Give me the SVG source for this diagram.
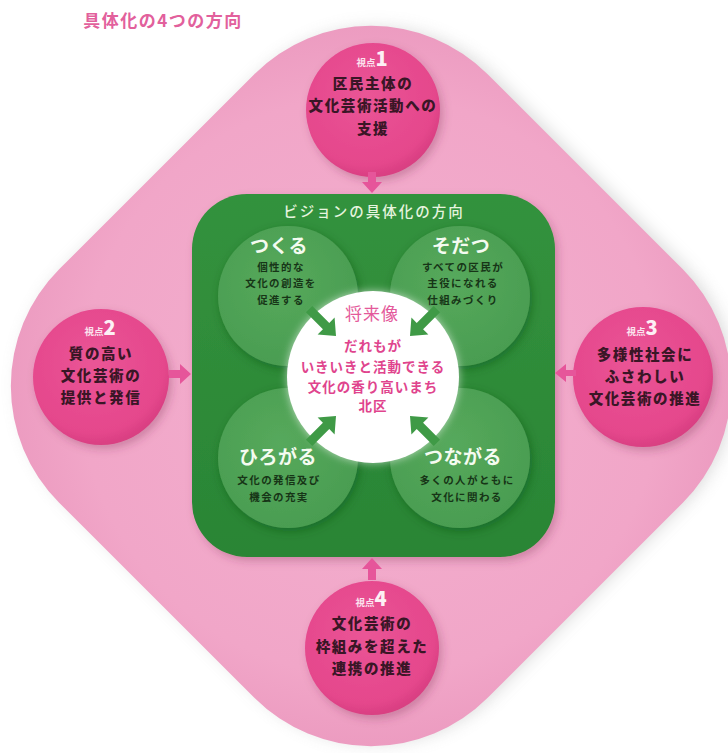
<svg xmlns="http://www.w3.org/2000/svg" width="728" height="753" viewBox="0 0 728 753">
  <defs>
    <style>
      text { font-family: "Noto Sans CJK JP", "Noto Sans", sans-serif; text-anchor: middle; }
      .title { font-size: 17px; font-weight: 700; fill: #e2609c; letter-spacing: 1.5px; }
      .ptxt { font-size: 14.5px; font-weight: 900; fill: #3a1626; letter-spacing: 1.6px; }
      .vlab { font-size: 9.5px; font-weight: 700; fill: #fbe3ee; }
      .vnum { font-size: 20px; font-weight: 900; fill: #fdf0f5; }
      .gtitle { font-size: 14.5px; font-weight: 500; fill: #e6f4df; letter-spacing: 2px; }
      .ghead { font-size: 19px; font-weight: 700; fill: #f4fbf0; letter-spacing: 0.5px; }
      .gsub { font-size: 10.5px; font-weight: 700; fill: #173517; letter-spacing: 1.4px; }
      .fut { font-size: 17px; font-weight: 400; fill: #e45a9b; letter-spacing: 1px; }
      .ftxt { font-size: 13.5px; font-weight: 700; fill: #e0448d; letter-spacing: 1px; }
      .pcircle { fill: url(#pinkGrad); filter: url(#shadow); }
      .gcircle { fill: url(#greenGrad); }
      .parrow { fill: #e6559a; }
      .garrow { fill: #3f9a46; }
    </style>
    <radialGradient id="pinkGrad" cx="0.45" cy="0.4" r="0.6">
      <stop offset="0" stop-color="#ea5596"/>
      <stop offset="0.85" stop-color="#e5478c"/>
      <stop offset="1" stop-color="#d93f82"/>
    </radialGradient>
    <radialGradient id="greenGrad" cx="0.45" cy="0.4" r="0.6">
      <stop offset="0" stop-color="#56a95c"/>
      <stop offset="1" stop-color="#4a9d51"/>
    </radialGradient>
    <radialGradient id="diaGrad" cx="0.5" cy="0.5" r="0.6">
      <stop offset="0" stop-color="#f3b0cf"/>
      <stop offset="0.8" stop-color="#f1a6c8"/>
      <stop offset="1" stop-color="#ec9bc0"/>
    </radialGradient>
    <linearGradient id="boxGrad" x1="0" y1="0" x2="0" y2="1">
      <stop offset="0" stop-color="#33923d"/>
      <stop offset="1" stop-color="#2a8535"/>
    </linearGradient>
    <filter id="shadow" x="-20%" y="-20%" width="150%" height="150%">
      <feDropShadow dx="3" dy="4" stdDeviation="4" flood-color="#7a3050" flood-opacity="0.3"/>
    </filter>
    <filter id="bigShadow" x="-10%" y="-10%" width="120%" height="120%">
      <feGaussianBlur stdDeviation="9"/>
    </filter>
    <filter id="gshadow" x="-20%" y="-20%" width="150%" height="150%">
      <feDropShadow dx="2" dy="3" stdDeviation="5" flood-color="#0f4a18" flood-opacity="0.45"/>
    </filter>
    <filter id="glow" x="-20%" y="-20%" width="140%" height="140%">
      <feDropShadow dx="0" dy="0" stdDeviation="4" flood-color="#ffffff" flood-opacity="0.6"/>
    </filter>
  </defs>

  <rect width="728" height="753" fill="#ffffff"/>

  <g id="title">
    <text class="title" x="163" y="27">具体化の4つの方向</text>
  </g>

  <g id="diamond">
    <rect x="72" y="86" width="600" height="600" rx="165" transform="rotate(45 375 391)" fill="#a0a0a0" opacity="0.45" filter="url(#bigShadow)"/>
    <rect x="68" y="83" width="606" height="606" rx="165" transform="rotate(45 371 386)" fill="url(#diaGrad)"/>
  </g>

  <g id="vision-box">
    <rect x="192" y="194" width="363" height="363" rx="55" fill="url(#boxGrad)" filter="url(#shadow)"/>
    <text class="gtitle" x="374" y="217">ビジョンの具体化の方向</text>
  </g>

  <g id="tsukuru">
    <circle class="gcircle" cx="288" cy="296" r="70" filter="url(#gshadow)"/>
    <text class="ghead" x="279" y="253">つくる</text>
    <text class="gsub" x="281" y="271">個性的な</text>
    <text class="gsub" x="281" y="287">文化の創造を</text>
    <text class="gsub" x="281" y="304">促進する</text>
  </g>

  <g id="sodatsu">
    <circle class="gcircle" cx="460" cy="296" r="70" filter="url(#gshadow)"/>
    <text class="ghead" x="461" y="253">そだつ</text>
    <text class="gsub" x="463" y="271">すべての区民が</text>
    <text class="gsub" x="463" y="287">主役になれる</text>
    <text class="gsub" x="463" y="304">仕組みづくり</text>
  </g>

  <g id="hirogaru">
    <circle class="gcircle" cx="288" cy="458" r="70" filter="url(#gshadow)"/>
    <text class="ghead" x="278" y="464">ひろがる</text>
    <text class="gsub" x="279" y="484">文化の発信及び</text>
    <text class="gsub" x="279" y="501">機会の充実</text>
  </g>

  <g id="tsunagaru">
    <circle class="gcircle" cx="460" cy="458" r="70" filter="url(#gshadow)"/>
    <text class="ghead" x="463" y="464">つながる</text>
    <text class="gsub" x="467" y="484">多くの人がともに</text>
    <text class="gsub" x="467" y="501">文化に関わる</text>
  </g>

  <g id="future">
    <circle cx="373" cy="377" r="86" fill="#ffffff" filter="url(#glow)"/>
    <text class="fut" x="372" y="320">将来像</text>
    <text class="ftxt" x="373" y="351">だれもが</text>
    <text class="ftxt" x="373" y="372">いきいきと活動できる</text>
    <text class="ftxt" x="373" y="392">文化の香り高いまち</text>
    <text class="ftxt" x="373" y="411">北区</text>
  </g>

  <g id="viewpoint1">
    <circle class="pcircle" cx="373" cy="110" r="67"/>
    <text x="372" y="66"><tspan class="vlab">視点</tspan><tspan class="vnum">1</tspan></text>
    <text class="ptxt" x="373" y="89">区民主体の</text>
    <text class="ptxt" x="373" y="111">文化芸術活動への</text>
    <text class="ptxt" x="373" y="134">支援</text>
  </g>

  <g id="viewpoint2">
    <circle class="pcircle" cx="101" cy="377" r="68"/>
    <text x="100" y="335"><tspan class="vlab">視点</tspan><tspan class="vnum">2</tspan></text>
    <text class="ptxt" x="101" y="359">質の高い</text>
    <text class="ptxt" x="101" y="381">文化芸術の</text>
    <text class="ptxt" x="101" y="403">提供と発信</text>
  </g>

  <g id="viewpoint3">
    <circle class="pcircle" cx="643" cy="377" r="70"/>
    <text x="642" y="335"><tspan class="vlab">視点</tspan><tspan class="vnum">3</tspan></text>
    <text class="ptxt" x="645" y="360">多様性社会に</text>
    <text class="ptxt" x="645" y="382">ふさわしい</text>
    <text class="ptxt" x="645" y="404">文化芸術の推進</text>
  </g>

  <g id="viewpoint4">
    <circle class="pcircle" cx="372" cy="648" r="67"/>
    <text x="371" y="606"><tspan class="vlab">視点</tspan><tspan class="vnum">4</tspan></text>
    <text class="ptxt" x="372" y="629">文化芸術の</text>
    <text class="ptxt" x="372" y="652">枠組みを超えた</text>
    <text class="ptxt" x="372" y="674">連携の推進</text>
  </g>

  <g id="connectors">
    <path class="parrow" d="M368 172 H376 V182 H382 L372 193 L362 182 H368 Z"/>
    <path class="parrow" d="M169 370 H180 V364 L191 374 L180 384 V378 H169 Z"/>
    <path class="parrow" d="M576 370 H566 V364 L555 373 L566 382 V376 H576 Z"/>
    <path class="parrow" d="M368 580 H376 V569 H382 L372 558 L362 569 H368 Z"/>
    <g transform="translate(336 336) rotate(45)">
      <path class="garrow" d="M-38 -4.5 H-14 V-12 L0 0 L-14 12 V4.5 H-38 Z"/>
    </g>
    <g transform="translate(410 336) rotate(135)">
      <path class="garrow" d="M-38 -4.5 H-14 V-12 L0 0 L-14 12 V4.5 H-38 Z"/>
    </g>
    <g transform="translate(336 416) rotate(-45)">
      <path class="garrow" d="M-38 -4.5 H-14 V-12 L0 0 L-14 12 V4.5 H-38 Z"/>
    </g>
    <g transform="translate(410 416) rotate(-135)">
      <path class="garrow" d="M-38 -4.5 H-14 V-12 L0 0 L-14 12 V4.5 H-38 Z"/>
    </g>
  </g>
</svg>
